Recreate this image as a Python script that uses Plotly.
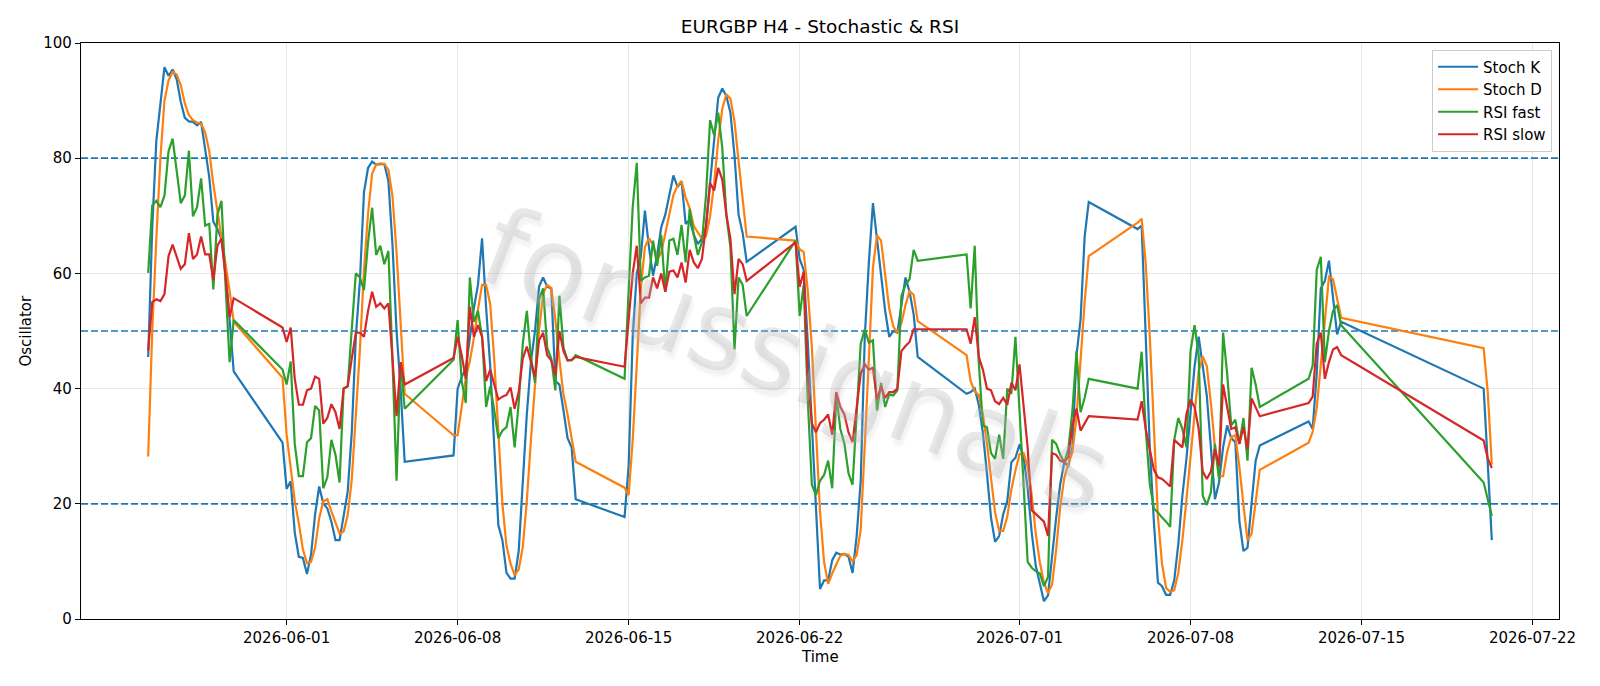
import pandas as pd
import plotly.graph_objects as go

# ---- data -------------------------------------------------------------
# H4 bar sessions (first bar time, number of consecutive 4h bars)
SESSION_STARTS = ["2026-05-26 08:00", "2026-05-31 20:00", "2026-06-07 20:00",
                  "2026-06-14 20:00", "2026-06-21 20:00", "2026-06-28 20:00",
                  "2026-07-05 20:00", "2026-07-12 20:00", "2026-07-20 00:00"]
SESSION_BARS = [22, 31, 31, 31, 31, 31, 31, 9, 3]

STOCH_K = [
    45.5, 68, 83, 89.8, 95.8, 94.3, 95.4, 93.7, 89.8, 87, 86.4, 86.3, 85.7, 86.3, 81.2, 76.7, 69, 67.7, 66, 60, 52, 43,
    30.6, 22.6, 23.9, 15, 10.8, 10.6, 7.8, 11.2, 18.2, 23, 20.1, 19.2, 16.9, 13.7, 13.7, 18.2, 22.1, 32.4, 49, 58.7, 74.1, 78.3, 79.4, 78.9, 79, 79, 76, 65, 50, 40, 27.3,
    28.4, 40, 42, 43.5, 49, 54, 58, 66.1, 54, 44, 30, 16.3, 13.7, 8, 7, 7, 11.8, 23.4, 35.6, 44.6, 50, 57.7, 59.3, 57.7, 57.4, 41.3, 40.7, 36.2, 31.4, 29.8, 20.8,
    17.7, 26.6, 49, 60, 63, 70.9, 64.5, 59.6, 63.2, 68, 70.2, 73.5, 77, 75, 76, 68.6, 69.3, 66.7, 65.1, 66.1, 68, 75.7, 83.1, 90.5, 92.1, 90.8, 87.9, 80.5, 70.2, 67, 62,
    68.1, 62.5, 60.6, 48, 33, 18, 5.2, 6.7, 6.7, 10.2, 11.5, 11.2, 11.3, 10.8, 8, 14.4, 24, 49, 61.9, 72.2, 65.7, 59.3, 53.5, 49, 50, 49.7, 54.5, 59.3, 56.8, 52.9, 45.5,
    39.1, 39.4, 40, 37.2, 32.3, 25.3, 17.6, 13.4, 14.4, 18.2, 20.5, 27.2, 28, 30.3, 28.2, 22.7, 15, 9.2, 6, 3.1, 4.1, 11.5, 17.6, 23.4, 27.2, 26.6, 29.8, 45.8, 52, 66.4, 72.4,
    67.7, 68.3, 49, 29.8, 16.9, 6.3, 5.7, 4.2, 4.2, 6.7, 13, 21.4, 27.8, 36.2, 43.9, 49, 43.9, 38.8, 29.8, 20.8, 23.7, 29.8, 33.6, 31.4, 30.7, 17, 11.8, 12.4, 20.1, 27.5, 30.1,
    34.3, 33, 42.6, 57.4, 58.7, 62.2, 56, 49.4, 51.6,
    40, 27, 13.7,
]

STOCH_D = [
    28.2, 50, 66, 80, 90, 93.5, 95, 94.5, 92.7, 89.5, 87.5, 86.6, 86.2, 86, 84.5, 81.2, 75.5, 71, 66.5, 62, 57, 51.6,
    41.9, 32, 25.7, 20.5, 16.6, 12.1, 9.7, 9.9, 12.4, 17.5, 20.4, 20.8, 18.7, 16.6, 14.8, 15.2, 18, 24.2, 34.5, 46.7, 60.6, 70.4, 77.3, 78.9, 79.1, 79, 78, 73.4, 63.7, 51.8, 39.1,
    31.9, 31.9, 36.8, 41.8, 44.8, 48.8, 53.7, 58, 58, 54.7, 45, 32, 20, 12.7, 9.6, 7.6, 8.6, 12.5, 20.5, 31, 41, 50, 56.5, 58, 57.5, 52, 45, 39, 35.5, 31.5, 27.3,
    22.8, 21.5, 31.1, 45.2, 57.3, 64.6, 66.1, 65, 62.4, 63.6, 67.1, 70.6, 73.6, 75.2, 76, 73.2, 71.3, 68.2, 67, 66, 66.4, 69.9, 75.6, 83.1, 88.6, 91.1, 90.3, 86.4, 79.5, 72.6, 66.4,
    65.7, 64.2, 63.7, 57, 47.2, 32.3, 18.7, 9.9, 6.1, 7.9, 9.5, 11, 11.3, 11.1, 10, 11.1, 15.5, 29.1, 45, 61, 66.6, 65.7, 59.5, 53.9, 50.8, 49.6, 51.4, 54.5, 56.9, 56.3, 51.7,
    45.8, 41.3, 39.5, 38.9, 35.5, 30.5, 24.5, 18.5, 15.3, 15.3, 17.8, 22.5, 25.8, 28.6, 28.8, 26.5, 21.5, 14.8, 9.8, 6.3, 4.5, 6, 12, 19.5, 24.5, 27, 29, 35, 45, 55, 63,
    68.8, 69.5, 61.7, 49, 31.9, 17.7, 9.6, 5.4, 4.7, 5, 8, 13.7, 20.7, 28.5, 36, 43, 45.6, 43.9, 37.5, 29.8, 24.8, 24.8, 29, 31.6, 31.9, 26.4, 19.8, 13.7, 14.8, 20, 25.9,
    30.6, 32.5, 36.6, 44.3, 52.9, 59.4, 59, 55.9, 52.3,
    47, 39.4, 26.8,
]

RSI_FAST = [
    60.1, 71.8, 72.6, 71.5, 73.5, 81.2, 83.4, 77.6, 72.2, 73.5, 81.3, 69.9, 71.5, 76.5, 68.3, 68.6, 57.2, 70.2, 72.6, 58, 44.6, 51.9,
    43.3, 40.7, 44.7, 30.4, 24.8, 24.8, 30.7, 31.4, 37, 36.2, 22.7, 24.6, 31.1, 28.5, 23.7, 40, 40.4, 50.3, 60, 59.3, 57.1, 65.4, 71.4, 63.2, 64.8, 61.6, 63.9, 45, 24, 44.6, 36.5,
    45, 51.9, 41.3, 37.5, 59.3, 51.6, 53.5, 49, 36.8, 40.4, 36.2, 31.4, 32.7, 33.3, 36.8, 29.8, 37.5, 47.8, 53.5, 45.5, 41, 55.5, 57.4, 47.1, 45.2, 39.7, 56.1, 47.1, 44.9, 44.9, 45.8,
    41.7, 57, 71.5, 79.2, 58.7, 59.3, 59.6, 65.7, 61.3, 66.7, 56.8, 65.7, 66, 63.2, 68.4, 61.9, 71.2, 66.7, 63.2, 65.4, 73.5, 86.6, 84, 87.9, 81.8, 70.2, 64.5, 46.8, 59.3, 58, 52.6,
    65.7, 52.6, 58, 38, 23.3, 21.5, 24, 25, 27.5, 22.7, 38.8, 33, 30.4, 25.3, 23.3, 35.5, 47.8, 50.3, 48, 48.4, 36.2, 41, 36.8, 39, 38.8, 39.7, 56.1, 58, 59, 64.1, 62.2,
    63.3, 53.9, 64.8, 44.6, 33.6, 33.3, 28.8, 27.8, 32, 27.8, 40, 39.1, 49, 36.8, 23.4, 9.9, 8.9, 8.3, 7.9, 5.7, 7.3, 31.1, 30.4, 28.5, 27.2, 29.5, 36.2, 46.5, 35.9, 38.4, 41.7,
    40, 46.4, 33, 23.4, 19.2, 18.5, 17.6, 16.9, 16, 31.1, 34.9, 33, 29.8, 46.5, 51, 45.8, 21.4, 19.8, 22, 30.4, 24.3, 49.7, 42.6, 33.6, 34.6, 30.4, 34.9, 27.5, 43.6, 40.7, 36.8,
    41.7, 44, 60.6, 62.9, 44.6, 50, 53.5, 54.5, 51,
    23.7, 20.8, 17.9,
]

RSI_SLOW = [
    46.6, 55, 55.5, 55.2, 56.4, 63, 65, 62.9, 60.8, 61.6, 67, 62.5, 63.3, 66.4, 63.3, 63.3, 58.8, 64.8, 66.1, 59.5, 52.4, 55.7,
    50.6, 48.1, 50.6, 41.7, 37.2, 37.2, 39.7, 40, 42.1, 41.7, 33.9, 34.9, 37.3, 35.9, 33, 40, 40.4, 45.2, 49.7, 49.7, 49, 53.5, 56.8, 54.2, 54.8, 53.9, 54.8, 45.2, 35.2, 44.6, 40.7,
    45.3, 49, 45.8, 41.7, 54.2, 49, 51, 49, 41.3, 43.3, 40.7, 38.1, 38.6, 38.9, 40.2, 36.5, 39.4, 45.2, 47.3, 44.6, 42, 48.4, 49.7, 45.8, 44.9, 42.3, 50, 46.5, 44.9, 45, 45.5,
    43.8, 52, 60, 64.8, 54.8, 55.8, 55.8, 59.3, 57.4, 60, 56.8, 60.3, 60.5, 59.3, 61.9, 58.4, 64.1, 61.9, 60.9, 62.5, 68.3, 75.7, 74.4, 78.3, 76.3, 70.2, 66, 56.4, 62.5, 61.6, 58.7,
    65.4, 57.7, 60.3, 42, 34, 32.4, 34, 34.6, 35.5, 32, 39.4, 36.8, 35.5, 32.4, 30.7, 36.8, 42.6, 44.2, 43.3, 43.6, 38.1, 40.4, 38.4, 39.4, 39.4, 40, 46.5, 47.4, 48.1, 50.3, 50.3,
    50.3, 47.8, 52.4, 45.5, 43.3, 40, 39.7, 37.8, 37.3, 38.4, 37.2, 41, 39.7, 44.2, 37.5, 29.8, 18.9, 18.2, 17.6, 16.9, 14.4, 28.8, 28.5, 27.5, 27.2, 28.2, 33.6, 36.5, 32.7, 33.9, 35.2,
    34.6, 37.8, 33, 29.1, 25.9, 24.6, 24.3, 23.7, 23, 31.1, 30.4, 29.8, 35.6, 38.1, 36.8, 33, 25.6, 24.3, 25.6, 29.5, 26.6, 40.7, 36.8, 33, 33.3, 30.4, 33.3, 29.5, 38.3, 36.8, 35.2,
    37.5, 38.6, 47.8, 49.7, 41.7, 44.6, 46.8, 47.2, 45.8,
    31, 27.9, 26.2,
]

LEVELS = [20, 50, 80]
Y_TICKS = [0, 20, 40, 60, 80, 100]
X_TICKS = ["2026-06-01", "2026-06-08", "2026-06-15", "2026-06-22",
           "2026-07-01", "2026-07-08", "2026-07-15", "2026-07-22"]
X_RANGE = ["2026-05-23 14:00", "2026-07-23 02:00"]
WATERMARK = "forussignals"

SERIES = [("Stoch K", STOCH_K, "#1f77b4"),
          ("Stoch D", STOCH_D, "#ff7f0e"),
          ("RSI fast", RSI_FAST, "#2ca02c"),
          ("RSI slow", RSI_SLOW, "#d62728")]

# ---- build ------------------------------------------------------------
times = []
for start, n in zip(SESSION_STARTS, SESSION_BARS):
    times.extend(pd.date_range(start, periods=n, freq="4h"))

FONT = "DejaVu Sans"
fig = go.Figure()

# reference levels, drawn first so the series sit on top
for lv in LEVELS:
    fig.add_trace(go.Scatter(x=X_RANGE, y=[lv, lv], mode="lines", showlegend=False,
                             hoverinfo="skip",
                             line=dict(color="#1f77b4", width=1.7, dash="7px,3px")))

for name, vals, color in SERIES:
    fig.add_trace(go.Scatter(x=times, y=vals, mode="lines", name=name,
                             line=dict(color=color, width=2.2)))

# watermark: translucent grey letters with a soft shadow
fig.add_annotation(text=WATERMARK, xref="paper", yref="paper",
                   x=0.484, y=0.45, showarrow=False, textangle=21,
                   font=dict(family=FONT, size=110, color="rgba(180,180,180,0.30)",
                             shadow="4px 5px 3px rgba(175,175,175,0.5)"))

fig.update_layout(
    width=1600, height=686,
    paper_bgcolor="white", plot_bgcolor="white",
    margin=dict(l=81, r=41, t=43, b=67),
    font=dict(family=FONT, size=15, color="black"),
    title=dict(text="EURGBP H4 - Stochastic & RSI", x=0.5, xref="paper",
               y=1 - 26.5 / 686, yref="container", yanchor="middle",
               font=dict(size=18.5, family=FONT, color="black")),
    showlegend=True,
    legend=dict(x=0.9953, y=0.9887, xanchor="right", yanchor="top",
                bgcolor="rgba(255,255,255,0.85)", bordercolor="#cccccc",
                borderwidth=1, font=dict(size=15, family=FONT),
                itemwidth=40, tracegroupgap=0),
)

fig.update_xaxes(range=X_RANGE, tickvals=X_TICKS, tickformat="%Y-%m-%d",
                 showgrid=True, gridcolor="#e7e7e7", gridwidth=1.3,
                 showline=True, linecolor="black", linewidth=1.3, mirror=True,
                 ticks="outside", ticklen=5, tickwidth=1.3, tickcolor="black",
                 zeroline=False, tickfont=dict(size=15))
fig.update_yaxes(range=[0, 100], tickvals=Y_TICKS,
                 showgrid=True, gridcolor="#e7e7e7", gridwidth=1.3,
                 showline=True, linecolor="black", linewidth=1.3, mirror=True,
                 ticks="outside", ticklen=5, tickwidth=1.3, tickcolor="black",
                 zeroline=False, tickfont=dict(size=15))

# axis titles
fig.add_annotation(text="Time", xref="paper", yref="paper", x=0.5, y=-0.0655,
                   yanchor="middle", showarrow=False, font=dict(size=15, family=FONT))
fig.add_annotation(text="Oscillator", xref="paper", yref="paper", x=-0.0375, y=0.5,
                   xanchor="center", textangle=-90, showarrow=False,
                   font=dict(size=15, family=FONT))

fig.write_html("out.html")
